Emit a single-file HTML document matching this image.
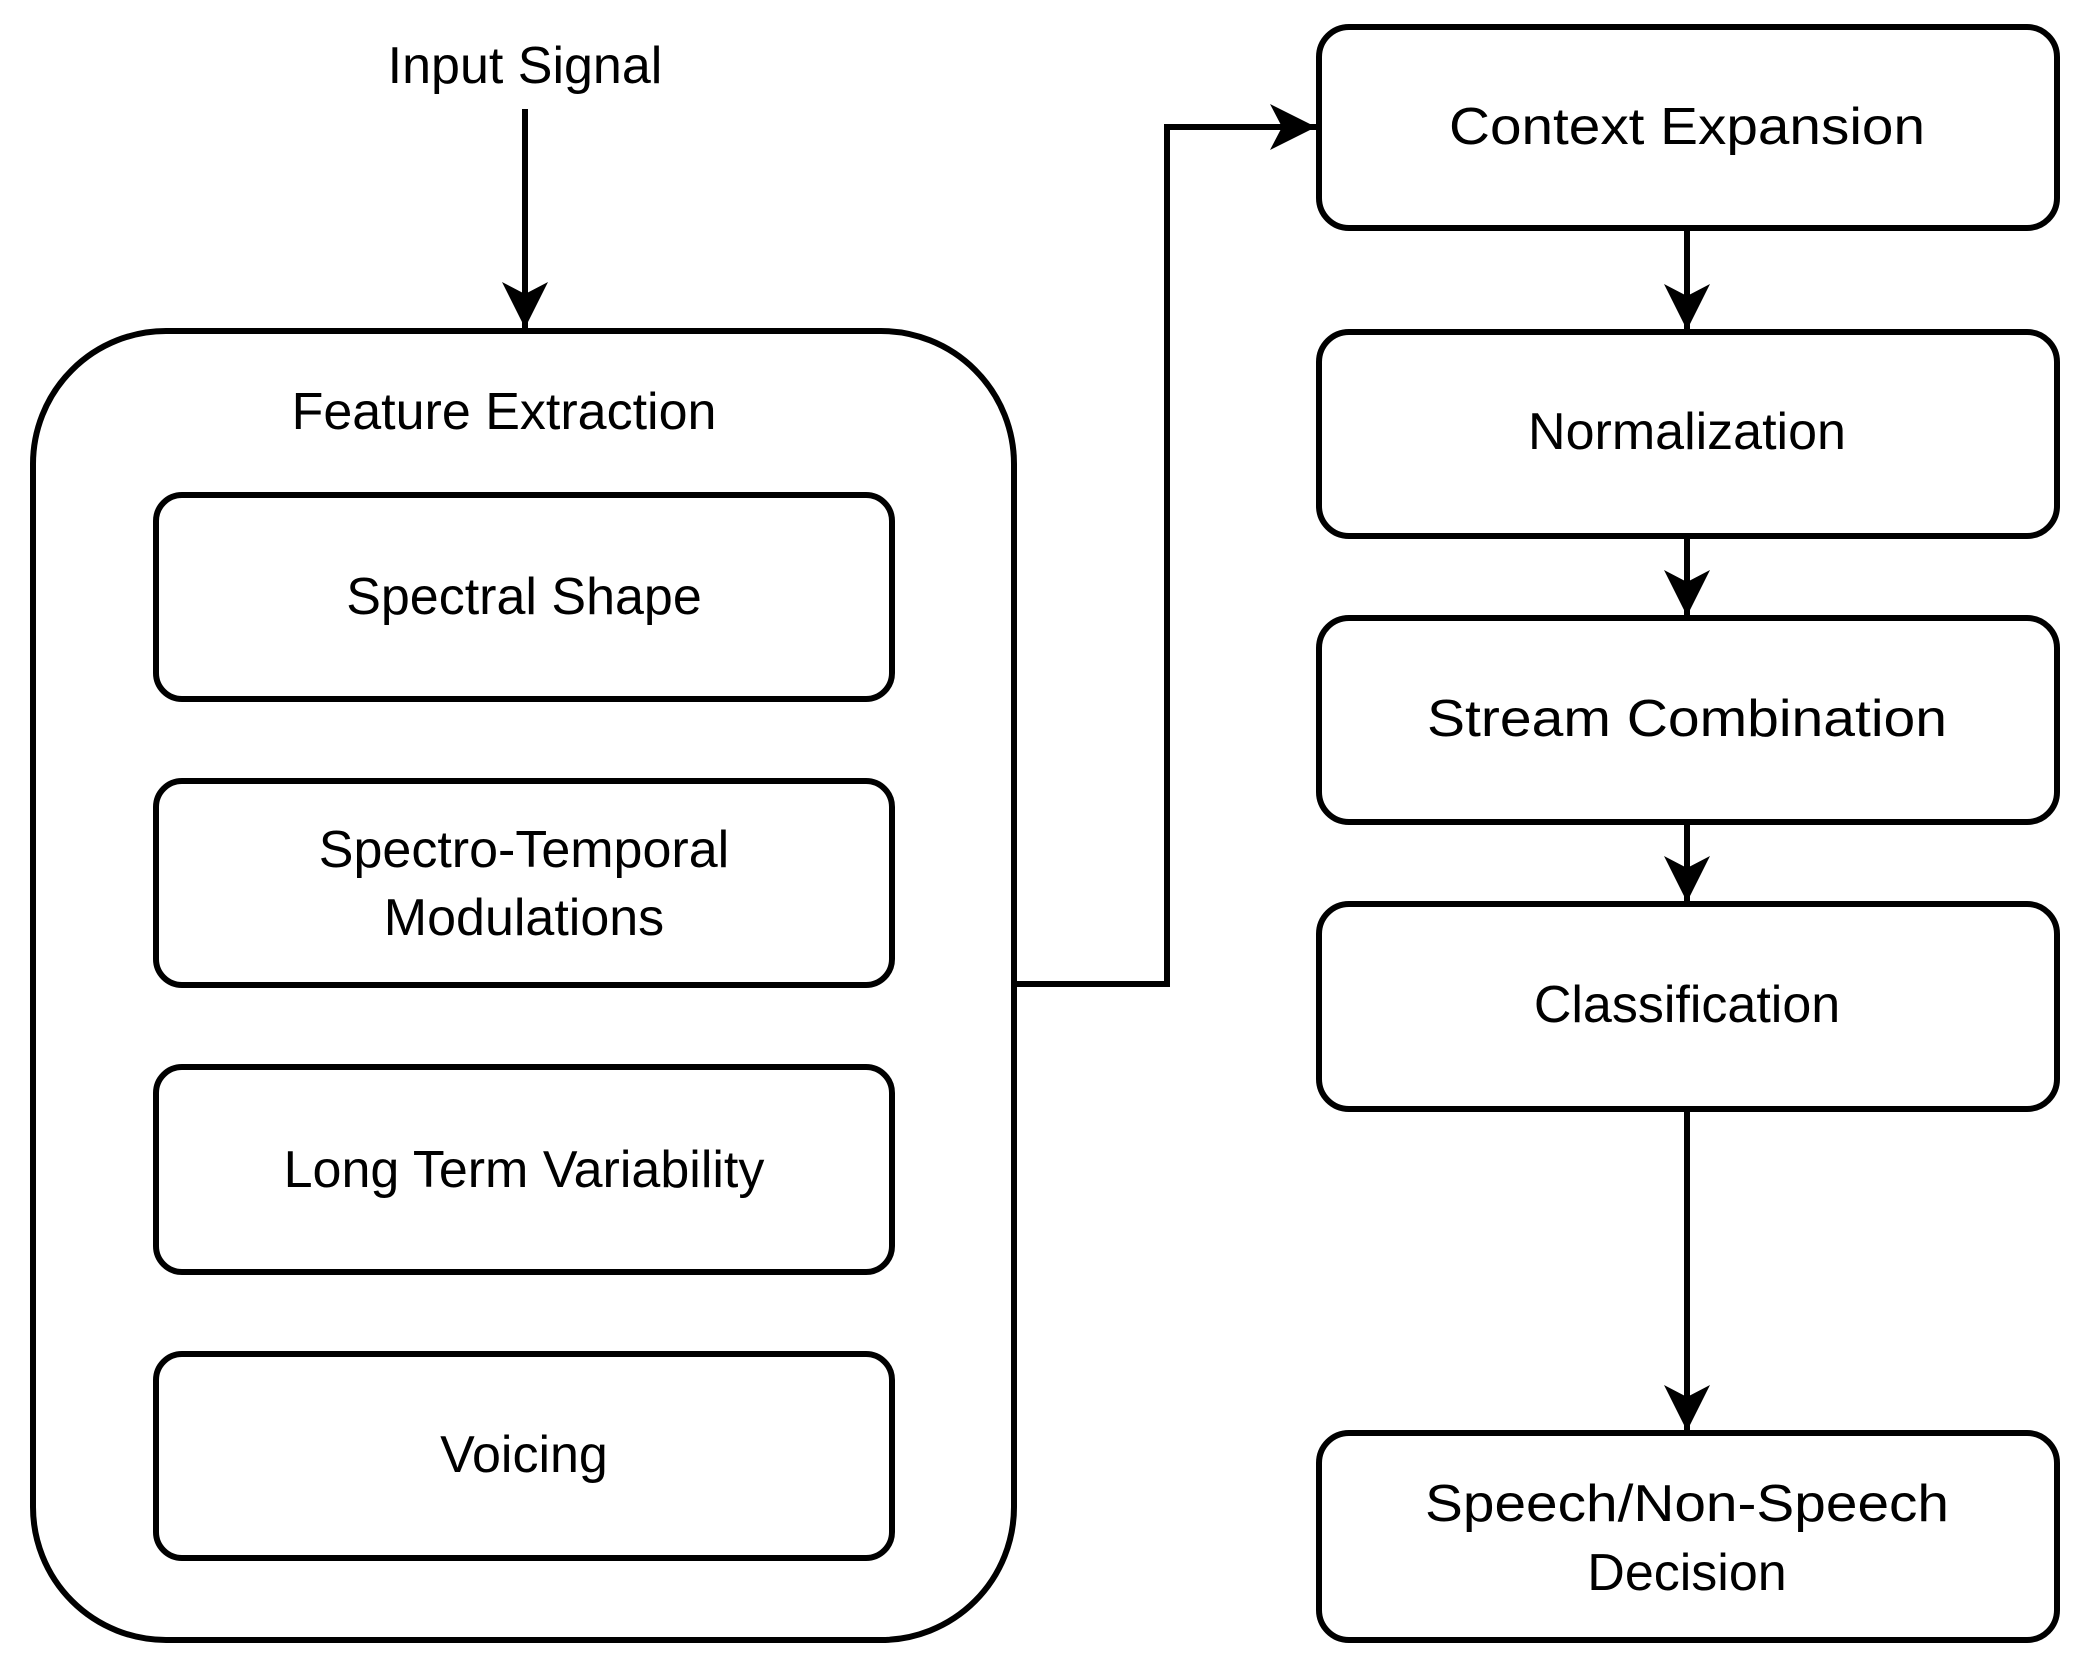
<!DOCTYPE html>
<html><head><meta charset="utf-8"><style>
html,body{margin:0;padding:0;background:#fff}
svg{display:block}
text{font-family:"Liberation Sans",Arial,sans-serif;fill:#000;text-anchor:middle;dominant-baseline:central}
</style></head><body>
<svg width="2076" height="1667" viewBox="0 0 2076 1667" xmlns="http://www.w3.org/2000/svg">
<defs>
<marker id="a" markerUnits="userSpaceOnUse" markerWidth="50" markerHeight="46" refX="46" refY="23" orient="auto">
<path d="M0,0 L46,23 L0,46 L12,23 Z" fill="#000"/>
</marker>
</defs>
<g fill="none" stroke="#000" stroke-width="6">
<rect x="33" y="331" width="981" height="1309" rx="133" ry="133"/>
<rect x="156" y="495" width="736" height="204" rx="26"/>
<rect x="156" y="781" width="736" height="204" rx="26"/>
<rect x="156" y="1067" width="736" height="205" rx="26"/>
<rect x="156" y="1354" width="736" height="204" rx="26"/>
<rect x="1319" y="27" width="738" height="201" rx="30"/>
<rect x="1319" y="332" width="738" height="204" rx="30"/>
<rect x="1319" y="618" width="738" height="204" rx="30"/>
<rect x="1319" y="904" width="738" height="205" rx="30"/>
<rect x="1319" y="1433" width="738" height="207" rx="30"/>
<line x1="525" y1="109" x2="525" y2="328" marker-end="url(#a)"/>
<polyline points="1014,984 1167,984 1167,127 1316,127" marker-end="url(#a)"/>
<line x1="1687" y1="228" x2="1687" y2="330" marker-end="url(#a)"/>
<line x1="1687" y1="536" x2="1687" y2="616" marker-end="url(#a)"/>
<line x1="1687" y1="822" x2="1687" y2="902" marker-end="url(#a)"/>
<line x1="1687" y1="1109" x2="1687" y2="1431" marker-end="url(#a)"/>
</g>
<g font-size="52">
<text x="525" y="66">Input Signal</text>
<text x="504" y="412">Feature Extraction</text>
<text x="524" y="597">Spectral Shape</text>
<text x="524" y="850">Spectro-Temporal</text>
<text x="524" y="918">Modulations</text>
<text x="524" y="1170">Long Term Variability</text>
<text x="524" y="1455">Voicing</text>
<text x="1687" y="127" textLength="476" lengthAdjust="spacingAndGlyphs">Context Expansion</text>
<text x="1687" y="432">Normalization</text>
<text x="1687" y="719" textLength="520" lengthAdjust="spacingAndGlyphs">Stream Combination</text>
<text x="1687" y="1005">Classification</text>
<text x="1687" y="1504" textLength="524" lengthAdjust="spacingAndGlyphs">Speech/Non-Speech</text>
<text x="1687" y="1573">Decision</text>
</g>
</svg>
</body></html>
